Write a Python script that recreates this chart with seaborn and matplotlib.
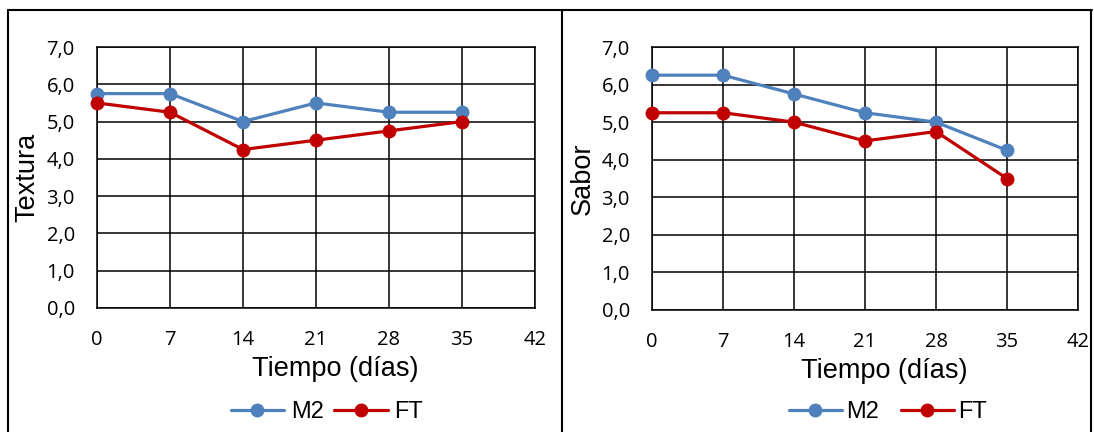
import pandas as pd
import matplotlib.pyplot as plt
import seaborn as sns
from matplotlib.lines import Line2D

dias = [0, 7, 14, 21, 28, 35]
textura_m2 = [5.75, 5.75, 5.0, 5.5, 5.25, 5.25]
textura_ft = [5.5, 5.25, 4.25, 4.5, 4.75, 5.0]
sabor_m2 = [6.25, 6.25, 5.75, 5.25, 5.0, 4.25]
sabor_ft = [5.25, 5.25, 5.0, 4.5, 4.75, 3.5]
series = ["M2", "FT"]
colores = {"M2": "#4F81BD", "FT": "#C00000"}
x_ticks = [0, 7, 14, 21, 28, 35, 42]
y_ticks = [0, 1, 2, 3, 4, 5, 6, 7]


def long_df(m2, ft):
    return pd.DataFrame({
        "Tiempo": dias * 2,
        "Valor": m2 + ft,
        "Serie": ["M2"] * len(dias) + ["FT"] * len(dias),
    })


sns.set_style("white")
plt.rcParams["font.family"] = ["Liberation Sans", "DejaVu Sans"]
plt.rcParams["text.color"] = "black"
plt.rcParams["axes.labelcolor"] = "black"
plt.rcParams["xtick.color"] = "black"
plt.rcParams["ytick.color"] = "black"

fig = plt.figure(figsize=(10.94, 4.32), dpi=100)
ax1 = fig.add_axes([97 / 1094, 1 - 308 / 432, (535 - 97) / 1094, (308 - 47) / 432])
ax2 = fig.add_axes([652 / 1094, 1 - 310 / 432, (1078 - 652) / 1094, (310 - 47) / 432])

# eje, datos, etiqueta y, centro de la leyenda (px), separacion de columnas
paneles = [(ax1, long_df(textura_m2, textura_ft), "Textura", 327, 0.45, 0.3),
           (ax2, long_df(sabor_m2, sabor_ft), "Sabor", 888, 0.9, 0.2)]

for ax, df, ylab, leg_x, colsp, txtpad in paneles:
    sns.lineplot(data=df, x="Tiempo", y="Valor", hue="Serie", hue_order=series,
                 palette=colores, marker="o", markersize=10, linewidth=2.3,
                 markeredgewidth=0, ax=ax, legend=False, zorder=3)
    for ln in ax.lines:
        ln.set_clip_on(False)
    ax.set_xlim(0, 42)
    ax.set_ylim(0, 7)
    ax.set_xticks(x_ticks)
    ax.set_yticks(y_ticks)
    ax.set_yticklabels([f"{v:.1f}".replace(".", ",") for v in y_ticks])
    ax.grid(True, color="black", linewidth=1.1)
    for s in ax.spines.values():
        s.set_color("black")
        s.set_linewidth(1.1)
    ax.tick_params(length=0, labelsize=14.5, pad=16)
    for lab in ax.get_xticklabels() + ax.get_yticklabels():
        lab.set_family(["Open Sans", "DejaVu Sans"])
    ax.set_xlabel("Tiempo (días)", fontsize=19.5, labelpad=4)
    ax.xaxis.label.set_x(0.545)
    ax.set_ylabel(ylab, fontsize=19.5, labelpad=4)

    handles = [Line2D([], [], color=colores[s], marker="o", markersize=10,
                      linewidth=2.3, markeredgewidth=0) for s in series]
    fig.legend(handles, series, loc="center", bbox_to_anchor=(leg_x / 1094, 1 - 412 / 432),
               ncol=2, frameon=False, fontsize=17, handlelength=2.25,
               handletextpad=txtpad, columnspacing=colsp)

# marco exterior y separador de los paneles
fig.add_artist(Line2D([8 / 1094, 1092 / 1094], [1 - 10 / 432] * 2, color="black", linewidth=1.5))
fig.add_artist(Line2D([8 / 1094] * 2, [0, 1 - 10 / 432], color="black", linewidth=1.5))
fig.add_artist(Line2D([1091 / 1094] * 2, [0, 1 - 10 / 432], color="black", linewidth=1.5))
fig.add_artist(Line2D([562 / 1094] * 2, [0, 1 - 10 / 432], color="black", linewidth=1.5))

fig.savefig("out.png", dpi=100)
